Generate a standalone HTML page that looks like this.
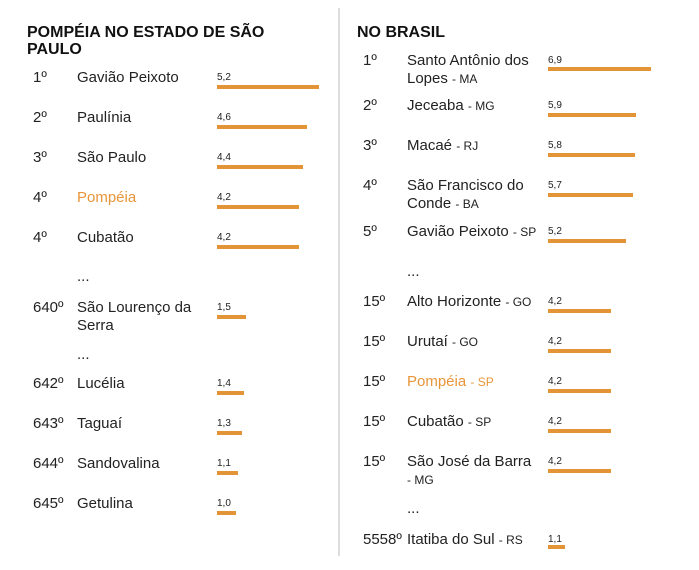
<!DOCTYPE html>
<html><head><meta charset="utf-8"><style>
body{margin:0;width:699px;height:570px;background:#fff;position:relative;font-family:"Liberation Sans",Arial,sans-serif;color:#222;overflow:hidden}
.a{position:absolute;white-space:nowrap}
.t{font-weight:bold;font-size:16px;line-height:17px;color:#111}
.r,.n{font-size:15px;line-height:18px}
.n small{font-size:12px}
.v{font-size:10px;line-height:12px}
.b{position:absolute;height:4px;background:#e39437}
.o{color:#e8953a}
.div{position:absolute;left:338px;top:8px;width:2px;height:548px;background:#ddd}
</style></head><body>
<div class="div"></div>
<div class="a t" style="left:27px;top:24px">POMPÉIA NO ESTADO DE SÃO<br>PAULO</div>
<div class="a t" style="left:357px;top:24px">NO BRASIL</div>

<!-- left -->
<div class="a r" style="left:33px;top:69px">1º</div><div class="a n" style="left:77px;top:69px">Gavião Peixoto</div><div class="a v" style="left:217px;top:72px">5,2</div><div class="b" style="left:217px;top:85px;width:102px"></div>
<div class="a r" style="left:33px;top:109px">2º</div><div class="a n" style="left:77px;top:109px">Paulínia</div><div class="a v" style="left:217px;top:112px">4,6</div><div class="b" style="left:217px;top:125px;width:90px"></div>
<div class="a r" style="left:33px;top:149px">3º</div><div class="a n" style="left:77px;top:149px">São Paulo</div><div class="a v" style="left:217px;top:152px">4,4</div><div class="b" style="left:217px;top:165px;width:86px"></div>
<div class="a r" style="left:33px;top:189px">4º</div><div class="a n o" style="left:77px;top:189px">Pompéia</div><div class="a v" style="left:217px;top:192px">4,2</div><div class="b" style="left:217px;top:205px;width:82px"></div>
<div class="a r" style="left:33px;top:229px">4º</div><div class="a n" style="left:77px;top:229px">Cubatão</div><div class="a v" style="left:217px;top:232px">4,2</div><div class="b" style="left:217px;top:245px;width:82px"></div>
<div class="a r" style="left:77px;top:268px">...</div>
<div class="a r" style="left:33px;top:299px">640º</div><div class="a n" style="left:77px;top:299px">São Lourenço da<br>Serra</div><div class="a v" style="left:217px;top:302px">1,5</div><div class="b" style="left:217px;top:315px;width:29px"></div>
<div class="a r" style="left:77px;top:346px">...</div>
<div class="a r" style="left:33px;top:375px">642º</div><div class="a n" style="left:77px;top:375px">Lucélia</div><div class="a v" style="left:217px;top:378px">1,4</div><div class="b" style="left:217px;top:391px;width:27px"></div>
<div class="a r" style="left:33px;top:415px">643º</div><div class="a n" style="left:77px;top:415px">Taguaí</div><div class="a v" style="left:217px;top:418px">1,3</div><div class="b" style="left:217px;top:431px;width:25px"></div>
<div class="a r" style="left:33px;top:455px">644º</div><div class="a n" style="left:77px;top:455px">Sandovalina</div><div class="a v" style="left:217px;top:458px">1,1</div><div class="b" style="left:217px;top:471px;width:21px"></div>
<div class="a r" style="left:33px;top:495px">645º</div><div class="a n" style="left:77px;top:495px">Getulina</div><div class="a v" style="left:217px;top:498px">1,0</div><div class="b" style="left:217px;top:511px;width:19px"></div>

<!-- right -->
<div class="a r" style="left:363px;top:52px">1º</div><div class="a n" style="left:407px;top:52px">Santo Antônio dos<br>Lopes <small>- MA</small></div><div class="a v" style="left:548px;top:55px">6,9</div><div class="b" style="left:548px;top:67px;width:103px"></div>
<div class="a r" style="left:363px;top:97px">2º</div><div class="a n" style="left:407px;top:97px">Jeceaba <small>- MG</small></div><div class="a v" style="left:548px;top:100px">5,9</div><div class="b" style="left:548px;top:113px;width:88px"></div>
<div class="a r" style="left:363px;top:137px">3º</div><div class="a n" style="left:407px;top:137px">Macaé <small>- RJ</small></div><div class="a v" style="left:548px;top:140px">5,8</div><div class="b" style="left:548px;top:153px;width:87px"></div>
<div class="a r" style="left:363px;top:177px">4º</div><div class="a n" style="left:407px;top:177px">São Francisco do<br>Conde <small>- BA</small></div><div class="a v" style="left:548px;top:180px">5,7</div><div class="b" style="left:548px;top:193px;width:85px"></div>
<div class="a r" style="left:363px;top:223px">5º</div><div class="a n" style="left:407px;top:223px">Gavião Peixoto <small>- SP</small></div><div class="a v" style="left:548px;top:226px">5,2</div><div class="b" style="left:548px;top:239px;width:78px"></div>
<div class="a r" style="left:407px;top:263px">...</div>
<div class="a r" style="left:363px;top:293px">15º</div><div class="a n" style="left:407px;top:293px">Alto Horizonte <small>- GO</small></div><div class="a v" style="left:548px;top:296px">4,2</div><div class="b" style="left:548px;top:309px;width:63px"></div>
<div class="a r" style="left:363px;top:333px">15º</div><div class="a n" style="left:407px;top:333px">Urutaí <small>- GO</small></div><div class="a v" style="left:548px;top:336px">4,2</div><div class="b" style="left:548px;top:349px;width:63px"></div>
<div class="a r" style="left:363px;top:373px">15º</div><div class="a n o" style="left:407px;top:373px">Pompéia <small>- SP</small></div><div class="a v" style="left:548px;top:376px">4,2</div><div class="b" style="left:548px;top:389px;width:63px"></div>
<div class="a r" style="left:363px;top:413px">15º</div><div class="a n" style="left:407px;top:413px">Cubatão <small>- SP</small></div><div class="a v" style="left:548px;top:416px">4,2</div><div class="b" style="left:548px;top:429px;width:63px"></div>
<div class="a r" style="left:363px;top:453px">15º</div><div class="a n" style="left:407px;top:453px">São José da Barra<br><small>- MG</small></div><div class="a v" style="left:548px;top:456px">4,2</div><div class="b" style="left:548px;top:469px;width:63px"></div>
<div class="a r" style="left:407px;top:500px">...</div>
<div class="a r" style="left:363px;top:531px">5558º</div><div class="a n" style="left:407px;top:531px">Itatiba do Sul <small>- RS</small></div><div class="a v" style="left:548px;top:534px">1,1</div><div class="b" style="left:548px;top:545px;width:17px"></div>
</body></html>
